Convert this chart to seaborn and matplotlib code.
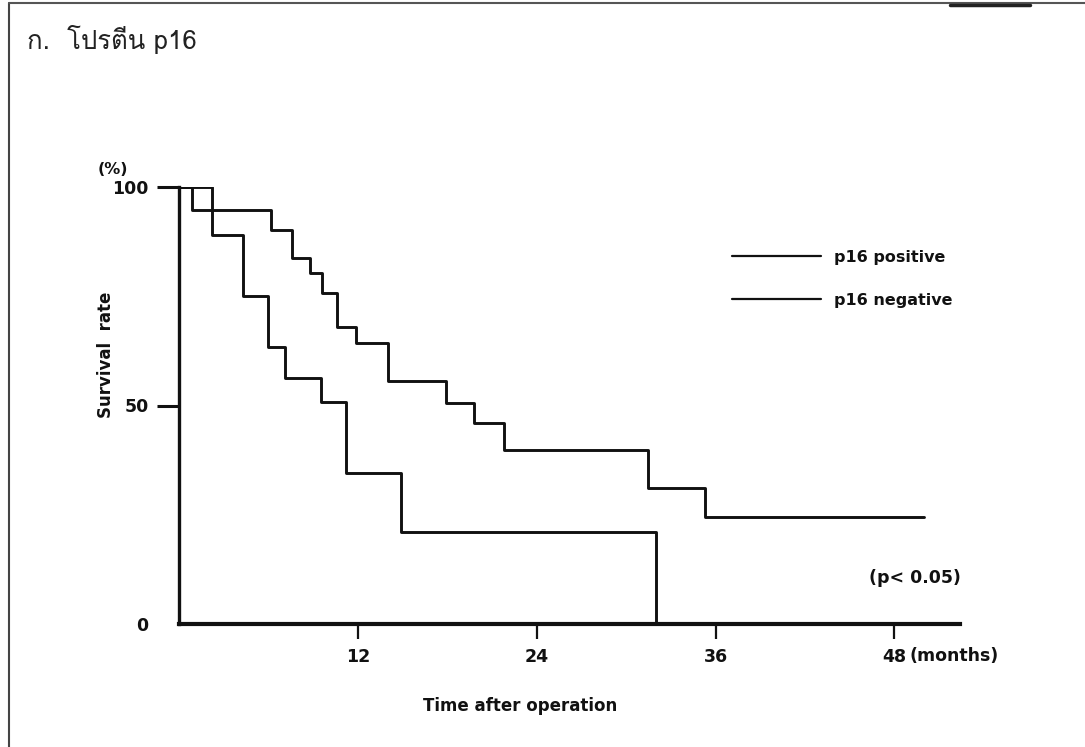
import numpy as np
import pandas as pd
import matplotlib
matplotlib.use("Agg")
import matplotlib.pyplot as plt
from matplotlib import font_manager
from matplotlib.ft2font import FT2Font
from matplotlib.lines import Line2D
import seaborn as sns

# ---------------- data ----------------
pos_months = [0, 0.9, 6.2, 7.6, 8.8, 9.6, 10.6, 11.9, 14.0, 17.9, 19.8, 21.8, 31.5, 35.3, 50.0]
pos_surv = [100, 94.7, 90.2, 83.7, 80.3, 75.7, 68.0, 64.2, 55.6, 50.6, 45.9, 39.8, 31.2, 24.4, 24.4]
neg_months = [0, 2.2, 4.3, 6.0, 7.1, 9.5, 11.2, 14.9, 32.0]
neg_surv = [100, 89.0, 75.1, 63.3, 56.2, 50.8, 34.6, 21.1, 0]
series_names = ["p16 positive", "p16 negative"]
x_ticks = [12, 24, 36, 48]
y_ticks = [0, 50, 100]

title_text = "ก.  โปรตีน p16"
y_label = "Survival  rate"
x_label = "Time after operation"
unit_y = "(%)"
unit_x = "(months)"
p_text = "(p< 0.05)"

df = pd.concat([
    pd.DataFrame({"month": pos_months, "survival": pos_surv, "group": series_names[0]}),
    pd.DataFrame({"month": neg_months, "survival": neg_surv, "group": series_names[1]}),
], ignore_index=True)

# ---------------- fonts ----------------
sns.set_theme(style="white")

def find_family(codepoints):
    for f in font_manager.fontManager.ttflist:
        try:
            cm = FT2Font(f.fname).get_charmap()
        except Exception:
            continue
        if all(c in cm for c in codepoints):
            return f.name
    return None

thai_family = find_family([0x0E01, 0x0E42, 0x0E1B, 0x0E23, 0x0E15, 0x0E35, 0x0E19])
names = {f.name for f in font_manager.fontManager.ttflist}
narrow = "Liberation Sans Narrow" if "Liberation Sans Narrow" in names else "DejaVu Sans"
plt.rcParams["font.family"] = [narrow, "DejaVu Sans"]

# ---------------- figure ----------------
W, H = 1085, 747
fig = plt.figure(figsize=(W / 100, H / 100), dpi=100)
fig.patch.set_facecolor("white")

x0, x1 = 179, 960
y_top, y_bot = 187, 624
ax = fig.add_axes([x0 / W, (H - y_bot) / H, (x1 - x0) / W, (y_bot - y_top) / H])
ax.set_facecolor("white")

sns.lineplot(data=df, x="month", y="survival", hue="group", hue_order=series_names,
             palette=["#111111", "#111111"], estimator=None, sort=False,
             drawstyle="steps-post", linewidth=2.1, ax=ax, legend=True)

ax.set_xlim(0, 52.4)
ax.set_ylim(0, 100)
for s in ["top", "right"]:
    ax.spines[s].set_visible(False)
ax.spines["left"].set_linewidth(2.4)
ax.spines["bottom"].set_linewidth(3.0)
ax.spines["left"].set_color("#111111")
ax.spines["bottom"].set_color("#111111")

ax.set_xticks(x_ticks)
ax.set_xticklabels([str(t) for t in x_ticks])
ax.set_yticks(y_ticks)
ax.set_yticklabels([str(t) for t in y_ticks])
ax.tick_params(axis="x", direction="out", length=11, width=1.6, pad=6,
               labelsize=12.5, colors="#111111", bottom=True)
ax.tick_params(axis="y", direction="out", length=16, width=2.2, pad=6,
               labelsize=12.5, colors="#111111", left=True)
for lab in ax.get_xticklabels() + ax.get_yticklabels():
    lab.set_fontweight("bold")
ax.yaxis.get_major_ticks()[0].tick1line.set_visible(False)

ax.set_xlabel(x_label, fontsize=12, fontweight="bold", color="#111111")
ax.xaxis.set_label_coords((520 - x0) / (x1 - x0), -(697 - y_bot) / (y_bot - y_top))
ax.set_ylabel(y_label, fontsize=12, fontweight="bold", color="#111111")
ax.yaxis.set_label_coords((115 - x0) / (x1 - x0), (y_bot - 355) / (y_bot - y_top))

ax.text((113 - x0) / (x1 - x0), (y_bot - 170) / (y_bot - y_top), unit_y,
        transform=ax.transAxes, ha="center", va="center", fontsize=11.5,
        fontweight="bold", color="#111111")
ax.text((909 - x0) / (x1 - x0), (y_bot - 656) / (y_bot - y_top), unit_x,
        transform=ax.transAxes, ha="left", va="center", fontsize=12.5,
        fontweight="bold", color="#111111", clip_on=False)
ax.text((915 - x0) / (x1 - x0), (y_bot - 578) / (y_bot - y_top), p_text,
        transform=ax.transAxes, ha="center", va="center", fontsize=12.5,
        fontweight="bold", color="#111111")

leg = ax.legend(loc="upper left", bbox_to_anchor=((732 - x0) / (x1 - x0), (y_bot - 250) / (y_bot - y_top)),
                frameon=False, fontsize=11.5, handlelength=5.6, handletextpad=0.8,
                labelspacing=1.75, borderaxespad=0, borderpad=0)
for t in leg.get_texts():
    t.set_fontweight("bold")
    t.set_color("#111111")
for h in leg.get_lines():
    h.set_linewidth(1.6)

# title
title_fam = [thai_family, "DejaVu Sans"] if thai_family else ["DejaVu Sans"]
fig.text(27 / W, 1 - 40 / H, title_text, ha="left", va="center", fontsize=18.5,
         family=title_fam, color="#222222")

# page frame (scanned page border)
fig.add_artist(Line2D([9 / W, 9 / W], [0, 1 - 3 / H], color="#444444", linewidth=1.5))
fig.add_artist(Line2D([9 / W, 1], [1 - 3 / H, 1 - 3 / H], color="#555555", linewidth=1.5))
fig.add_artist(Line2D([950 / W, 1030 / W], [1 - 5 / H, 1 - 5 / H], color="#222222", linewidth=2.5))

fig.savefig("out.png", dpi=100, facecolor="white")
